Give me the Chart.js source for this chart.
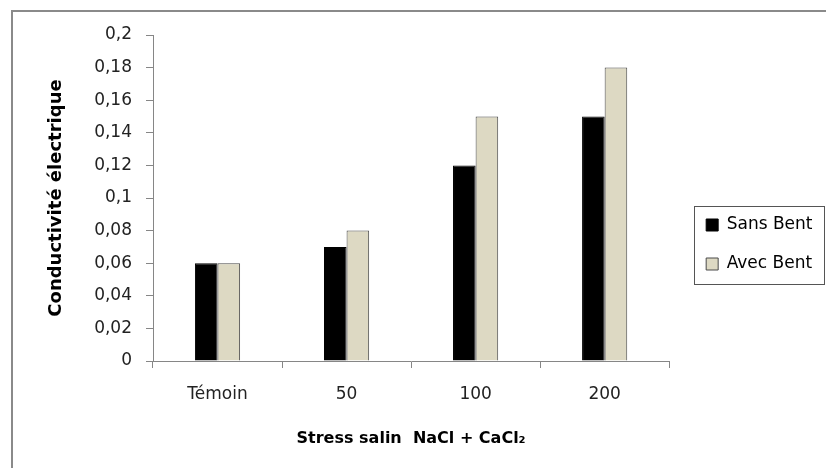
<!DOCTYPE html>
<html>
<head>
<meta charset="utf-8">
<script src="https://cdn.jsdelivr.net/npm/chart.js@4/dist/chart.umd.min.js"></script>
<style>
  html, body { margin: 0; padding: 0; background: #fff; }
  #wrap { width: 826px; height: 468px; }
</style>
</head>
<body>
<div id="wrap"><canvas id="canvas-conductivite" width="826" height="468"></canvas></div>
<script>
const categories = ['Témoin', '50', '100', '200'];
const sansBent = [0.06, 0.07, 0.12, 0.15];
const avecBent = [0.06, 0.08, 0.15, 0.18];
const yTicks = [0, 0.02, 0.04, 0.06, 0.08, 0.1, 0.12, 0.14, 0.16, 0.18, 0.2];

const FONT = 'DejaVu Sans';

// white page + the grey frame lines on top and left
const framePlugin = {
  id: 'frame',
  beforeDraw(chart) {
    const ctx = chart.ctx;
    ctx.save();
    ctx.fillStyle = '#fff';
    ctx.fillRect(0, 0, chart.width, chart.height);
    ctx.strokeStyle = '#8a8a8a';
    ctx.lineWidth = 2;
    ctx.beginPath();
    ctx.moveTo(12, chart.height);
    ctx.lineTo(12, 11);
    ctx.lineTo(chart.width, 11);
    ctx.stroke();
    ctx.restore();
  }
};

// box around the legend entries
const legendBoxPlugin = {
  id: 'legendBox',
  afterDraw(chart) {
    const boxes = chart.legend && chart.legend.legendHitBoxes;
    if (!boxes || !boxes.length) return;
    const left = Math.min(...boxes.map(b => b.left)) - 12;
    const right = Math.min(chart.width - 1.5, Math.max(...boxes.map(b => b.left + b.width)) + 13);
    const top = Math.min(...boxes.map(b => b.top)) - 10.5;
    const bottom = Math.max(...boxes.map(b => b.top + b.height)) + 11.5;
    const ctx = chart.ctx;
    ctx.save();
    ctx.strokeStyle = '#555';
    ctx.lineWidth = 1;
    ctx.strokeRect(Math.round(left) + 0.5, Math.round(top) + 0.5, Math.round(right - left), Math.round(bottom - top));
    ctx.restore();
  }
};

new Chart(document.getElementById('canvas-conductivite'), {
  type: 'bar',
  data: {
    labels: categories,
    datasets: [{
      label: 'Sans Bent',
      data: sansBent,
      backgroundColor: '#000',
      borderColor: '#000',
      borderWidth: 1,
      categoryPercentage: 0.35,
      barPercentage: 1
    }, {
      label: 'Avec Bent',
      data: avecBent,
      backgroundColor: '#ddd9c3',
      borderColor: '#4a4a4a',
      borderWidth: 1,
      categoryPercentage: 0.35,
      barPercentage: 1
    }]
  },
  options: {
    responsive: false,
    animation: false,
    devicePixelRatio: 1,
    layout: { padding: { top: 35, right: 5, bottom: 14, left: 0 } },
    plugins: {
      tooltip: { enabled: false },
      legend: {
        position: 'right',
        align: 'center',
        labels: {
          boxWidth: 12,
          boxHeight: 12,
          padding: 22,
          color: '#000',
          font: { family: FONT, size: 17 }
        }
      }
    },
    scales: {
      x: {
        grid: { drawOnChartArea: false, tickLength: 7, color: '#868686' },
        border: { color: '#868686' },
        ticks: { color: '#222', padding: 16, font: { family: FONT, size: 17 } },
        title: {
          display: true,
          text: 'Stress salin  NaCl + CaCl₂',
          color: '#000',
          font: { family: FONT, size: 16, weight: 'bold' },
          padding: { top: 10, bottom: 6 }
        },
        afterFit(scale) { scale.height = 93; }
      },
      y: {
        min: 0,
        max: 0.2,
        afterBuildTicks(scale) { scale.ticks = yTicks.map(v => ({ value: v })); },
        grid: { drawOnChartArea: false, tickLength: 7, color: '#868686' },
        border: { color: '#868686' },
        ticks: {
          color: '#222',
          padding: 14,
          font: { family: FONT, size: 17 },
          callback: v => String(Number(v.toFixed(2))).replace('.', ',')
        },
        title: {
          display: true,
          text: 'Conductivité électrique',
          color: '#000',
          font: { family: FONT, size: 18, weight: 'bold' },
          padding: { top: 46, bottom: 0 }
        },
        afterFit(scale) { scale.width = 153; }
      },
      // empty right axis, keeps a gap between plot and legend
      y2: {
        position: 'right',
        display: true,
        grid: { display: false },
        border: { display: false },
        ticks: { display: false },
        afterFit(scale) { scale.width = 15; }
      }
    }
  },
  plugins: [framePlugin, legendBoxPlugin]
});
</script>
</body>
</html>
